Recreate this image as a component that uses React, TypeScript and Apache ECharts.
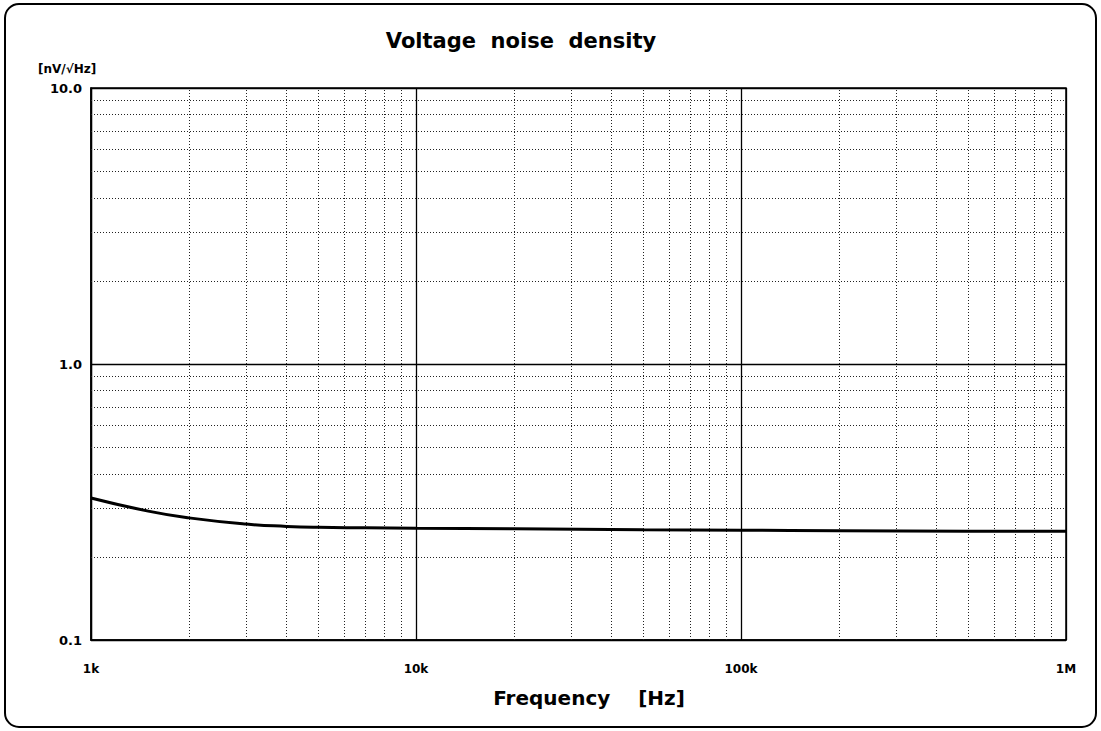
import React, { useEffect, useRef } from "react";
import * as echarts from "echarts";

const freqHz = [1000, 1500, 2000, 3000, 4000, 5000, 7000, 10000, 20000, 50000, 100000, 200000, 500000, 1000000];
const noiseNv = [0.327, 0.293, 0.277, 0.263, 0.258, 0.256, 0.255, 0.254, 0.253, 0.251, 0.25, 0.249, 0.248, 0.248];
const xMinor = [2, 3, 4, 5, 6, 7, 8, 9].flatMap((m) => [m * 1000, m * 10000, m * 100000]);
const yMinor = [2, 3, 4, 5, 6, 7, 8, 9].flatMap((m) => [m * 0.1, m * 1]);
const xTickLabels: Record<number, string> = { 1000: "1k", 10000: "10k", 100000: "100k", 1000000: "1M" };
const yTickLabels: Record<number, string> = { 0.1: "0.1", 1: "1.0", 10: "10.0" };
const titleText = "Voltage  noise  density";
const xAxisTitle = "Frequency    [Hz]";
const yUnit = "[nV/√Hz]";

const FONT = "DejaVu Sans";

export default function App() {
  const ref = useRef<HTMLDivElement>(null);
  useEffect(() => {
    document.body.style.margin = "0";
    const chart = echarts.init(ref.current!, null, { renderer: "svg" });
    const dotted = { color: "#222", width: 1, type: [1, 2] as any };
    chart.setOption({
      animation: false,
      backgroundColor: "#fff",
      grid: {
        left: 91,
        right: 35,
        top: 88,
        bottom: 91,
        show: true,
        borderColor: "#000",
        borderWidth: 1.5,
        backgroundColor: "transparent",
      },
      xAxis: {
        type: "log",
        logBase: 10,
        min: 1000,
        max: 1000000,
        axisLine: { show: true, lineStyle: { color: "#000", width: 1.5 } },
        axisTick: { show: false },
        axisLabel: {
          margin: 23,
          fontFamily: FONT,
          fontSize: 12,
          fontWeight: "bold",
          color: "#000",
          formatter: (v: number) => xTickLabels[Math.round(v)] ?? "",
        },
        splitLine: { show: true, lineStyle: { color: "#000", width: 1.3 } },
      },
      yAxis: {
        type: "log",
        logBase: 10,
        min: 0.1,
        max: 10,
        axisLine: { show: true, lineStyle: { color: "#000", width: 1.5 } },
        axisTick: { show: false },
        axisLabel: {
          margin: 9,
          fontFamily: FONT,
          fontSize: 13,
          fontWeight: "bold",
          color: "#000",
          formatter: (v: number) => {
            const k = Math.round(v * 10) / 10;
            return yTickLabels[k] ?? "";
          },
        },
        splitLine: { show: true, lineStyle: { color: "#000", width: 1.3 } },
      },
      series: [
        {
          type: "line",
          data: [],
          silent: true,
          markLine: {
            silent: true,
            symbol: "none",
            label: { show: false },
            lineStyle: dotted,
            data: [
              ...xMinor.map((x) => ({ xAxis: x })),
              ...yMinor.map((y) => ({ yAxis: y })),
            ],
          },
        },
        {
          type: "line",
          data: freqHz.map((f, i) => [f, noiseNv[i]]),
          smooth: true,
          showSymbol: false,
          lineStyle: { color: "#000", width: 3 },
          z: 5,
        },
      ],
      graphic: [
        {
          type: "rect",
          shape: { x: 5, y: 4, width: 1091, height: 723, r: 14 },
          style: { fill: "none", stroke: "#000", lineWidth: 2 },
          silent: true,
        },
        {
          type: "text",
          x: 521,
          y: 41,
          style: {
            text: titleText,
            fontFamily: FONT,
            fontSize: 21,
            fontWeight: "bold",
            fill: "#000",
            align: "center",
            verticalAlign: "middle",
          },
        },
        {
          type: "text",
          x: 589,
          y: 698,
          style: {
            text: xAxisTitle,
            fontFamily: FONT,
            fontSize: 20,
            fontWeight: "bold",
            fill: "#000",
            align: "center",
            verticalAlign: "middle",
          },
        },
        {
          type: "text",
          x: 38,
          y: 69,
          style: {
            text: yUnit,
            fontFamily: FONT,
            fontSize: 12,
            fontWeight: "bold",
            fill: "#000",
            align: "left",
            verticalAlign: "middle",
          },
        },
      ],
    });
    return () => chart.dispose();
  }, []);
  return <div ref={ref} style={{ width: 1101, height: 731 }} />;
}
